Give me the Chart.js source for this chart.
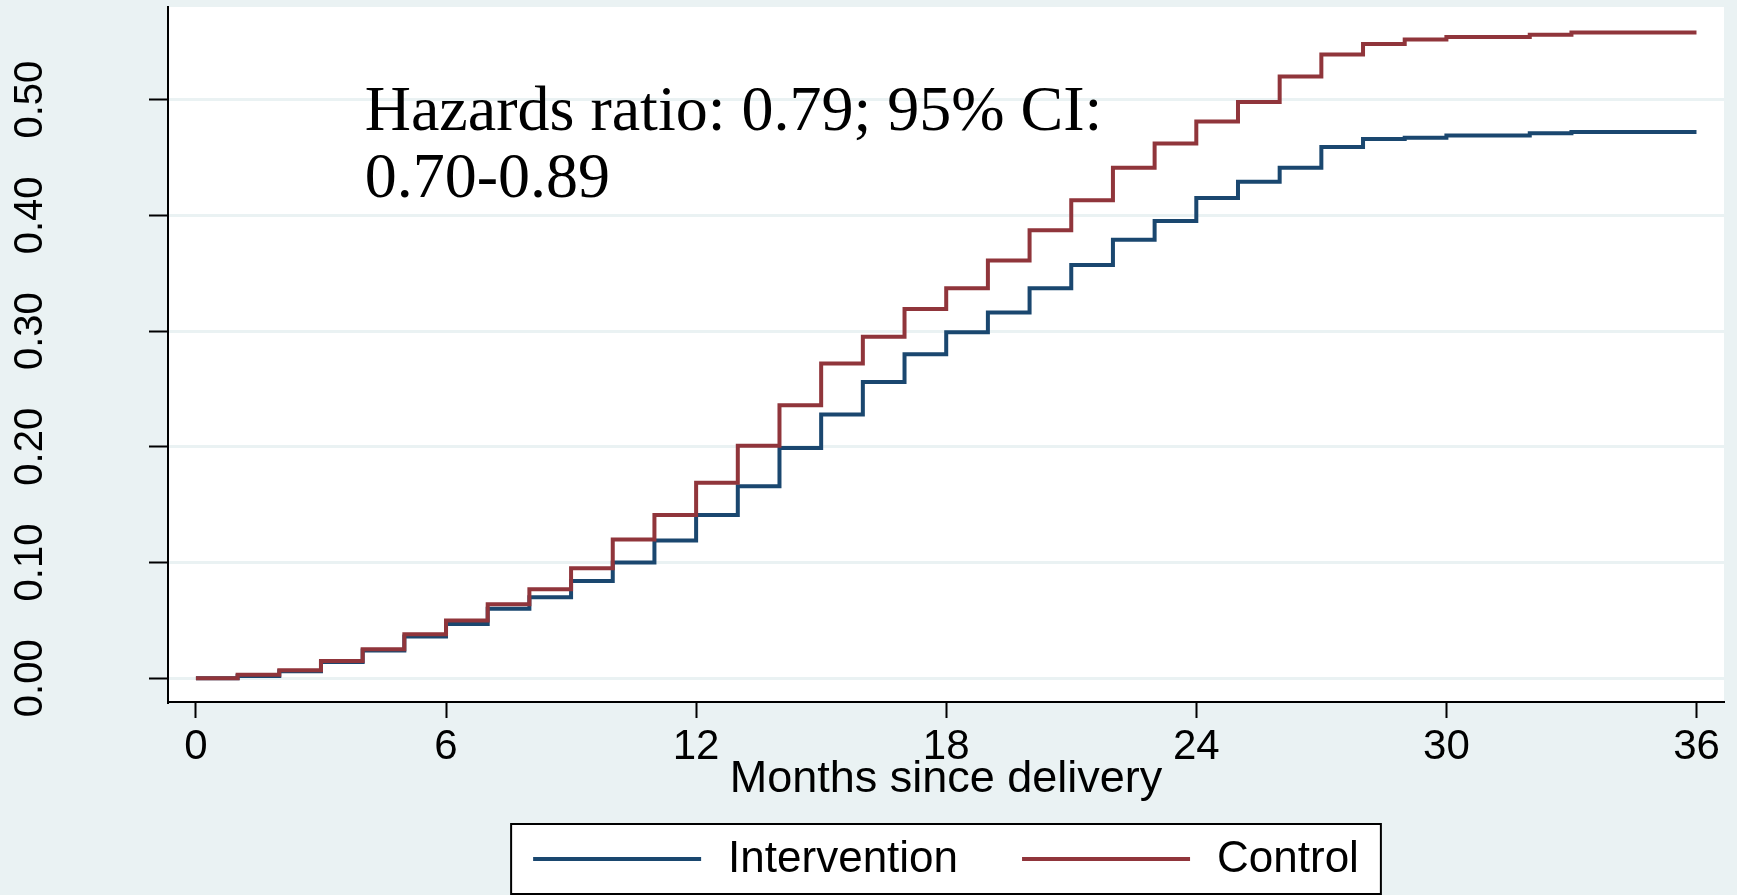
<!DOCTYPE html>
<html>
<head>
<meta charset="utf-8">
<script src="https://cdn.jsdelivr.net/npm/chart.js@4.4.1/dist/chart.umd.min.js"></script>
<style>
  html, body { margin: 0; padding: 0; background: #eaf2f3; }
  #chart { display: block; }
</style>
</head>
<body>
<canvas id="chart" width="1737" height="895"></canvas>
<script>
// cumulative failure by month since delivery (value holds from month k to k+1)
const months = [0, 1, 2, 3, 4, 5, 6, 7, 8, 9, 10, 11, 12, 13, 14, 15, 16, 17, 18,
    19, 20, 21, 22, 23, 24, 25, 26, 27, 28, 29, 30, 31, 32, 33, 34, 35, 36];
const intervention = [0, 0.002, 0.006, 0.014, 0.024, 0.036, 0.047, 0.060, 0.070, 0.084,
    0.100, 0.119, 0.141, 0.166, 0.199, 0.228, 0.256, 0.280, 0.299, 0.316, 0.337, 0.357,
    0.379, 0.395, 0.415, 0.429, 0.441, 0.459, 0.466, 0.467, 0.469, 0.469, 0.471, 0.472,
    0.472, 0.472, 0.472];
const control = [0, 0.003, 0.007, 0.015, 0.025, 0.038, 0.050, 0.064, 0.077, 0.095,
    0.120, 0.141, 0.169, 0.201, 0.236, 0.272, 0.295, 0.319, 0.337, 0.361, 0.387, 0.413,
    0.441, 0.462, 0.481, 0.498, 0.520, 0.539, 0.548, 0.552, 0.554, 0.554, 0.556, 0.558,
    0.558, 0.558, 0.558];
const seriesNames = ["Intervention", "Control"];
const xTicks = [0, 6, 12, 18, 24, 30, 36];
const yTicks = [0, 0.1, 0.2, 0.3, 0.4, 0.5];
const xTitle = "Months since delivery";
const noteLines = ["Hazards ratio: 0.79; 95% CI:", "0.70-0.89"];

const navy = "#1a476f";
const maroon = "#90353b";
const bluishGray = "#eaf2f3";
const sans = "'Liberation Sans', Arial, sans-serif";

function toPoints(values) {
    return months.map((m, i) => ({ x: m, y: values[i] }));
}

// grey page + white plot region
const backdrop = {
    id: "backdrop",
    beforeDraw(chart) {
        const { ctx, chartArea: a } = chart;
        ctx.save();
        ctx.fillStyle = bluishGray;
        ctx.fillRect(0, 0, chart.width, chart.height);
        ctx.fillStyle = "#ffffff";
        ctx.fillRect(a.left, a.top, a.right - a.left, a.bottom - a.top);
        ctx.restore();
    }
};

// the hazard ratio note, placed in data units like stata's text()
const note = {
    id: "note",
    afterDatasetsDraw(chart) {
        const ctx = chart.ctx;
        const x = chart.scales.x.getPixelForValue(4.05);
        const y1 = chart.scales.y.getPixelForValue(0.474);
        const y2 = chart.scales.y.getPixelForValue(0.416);
        ctx.save();
        ctx.fillStyle = "#000";
        ctx.font = "64px 'Liberation Serif', 'Times New Roman', serif";
        ctx.textBaseline = "alphabetic";
        ctx.fillText(noteLines[0], x, y1);
        ctx.fillText(noteLines[1], x, y2);
        ctx.restore();
    }
};

// boxed legend under the axis title
const boxLegend = {
    id: "boxLegend",
    afterDraw(chart) {
        const ctx = chart.ctx;
        const a = chart.chartArea;
        const lineLen = 168, gap = 27, itemGap = 64, pad = 22;
        ctx.save();
        ctx.font = "44px " + sans;
        const items = chart.data.datasets.map(d => ({
            label: d.label, color: d.borderColor, w: ctx.measureText(d.label).width
        }));
        let total = items.reduce((s, it) => s + lineLen + gap + it.w, 0) + itemGap * (items.length - 1);
        const cx = (a.left + a.right) / 2;
        const top = 824, h = 70;
        const cy = top + h / 2;
        ctx.fillStyle = "#ffffff";
        ctx.fillRect(cx - total / 2 - pad, top, total + 2 * pad, h);
        ctx.strokeStyle = "#000";
        ctx.lineWidth = 2;
        ctx.strokeRect(cx - total / 2 - pad, top, total + 2 * pad, h);
        let x = cx - total / 2;
        items.forEach(it => {
            ctx.strokeStyle = it.color;
            ctx.lineWidth = 4;
            ctx.beginPath();
            ctx.moveTo(x, cy);
            ctx.lineTo(x + lineLen, cy);
            ctx.stroke();
            x += lineLen + gap;
            ctx.fillStyle = "#000";
            ctx.textBaseline = "middle";
            ctx.fillText(it.label, x, cy + 1);
            x += it.w + itemGap;
        });
        ctx.restore();
    }
};

const chart = new Chart(document.getElementById("chart"), {
    type: "line",
    data: {
        datasets: [
            { label: seriesNames[0], data: toPoints(intervention), borderColor: navy,
              borderWidth: 4, stepped: true, pointRadius: 0, order: 1 },
            { label: seriesNames[1], data: toPoints(control), borderColor: maroon,
              borderWidth: 4, stepped: true, pointRadius: 0, order: 0 }
        ]
    },
    options: {
        responsive: false,
        animation: false,
        layout: { padding: { top: 7, right: 13, left: 0, bottom: 71 } },
        plugins: {
            legend: { display: false },
            tooltip: { enabled: false }
        },
        scales: {
            x: {
                type: "linear",
                min: -0.67,
                max: 36.66,
                afterBuildTicks: s => { s.ticks = xTicks.map(v => ({ value: v })); },
                afterFit: s => { s.height = 122; s.paddingLeft = 0; s.paddingRight = 0; },
                grid: { drawOnChartArea: false, tickLength: 16, tickColor: "#000", tickWidth: 2 },
                border: { color: "#000", width: 2 },
                ticks: { color: "#000", font: { size: 42, family: sans }, padding: 4,
                         maxRotation: 0, autoSkip: false },
                title: { display: true, text: xTitle, color: "#000",
                         font: { size: 45, family: sans }, padding: { top: 0, bottom: 17 } }
            },
            y: {
                type: "linear",
                min: -0.0205,
                max: 0.58,
                afterBuildTicks: s => { s.ticks = yTicks.map(v => ({ value: v })); },
                afterFit: s => { s.width = 168; s.paddingTop = 0; s.paddingBottom = 0; },
                grid: { color: bluishGray, lineWidth: 3, tickLength: 19, tickColor: "#000", tickWidth: 2 },
                border: { color: "#000", width: 2 },
                ticks: { color: "#000", font: { size: 40, family: sans }, padding: 79,
                         minRotation: 90, maxRotation: 90, crossAlign: "center", autoSkip: false,
                         callback: v => v.toFixed(2) }
            }
        }
    },
    plugins: [backdrop, note, boxLegend]
});
</script>
</body>
</html>
